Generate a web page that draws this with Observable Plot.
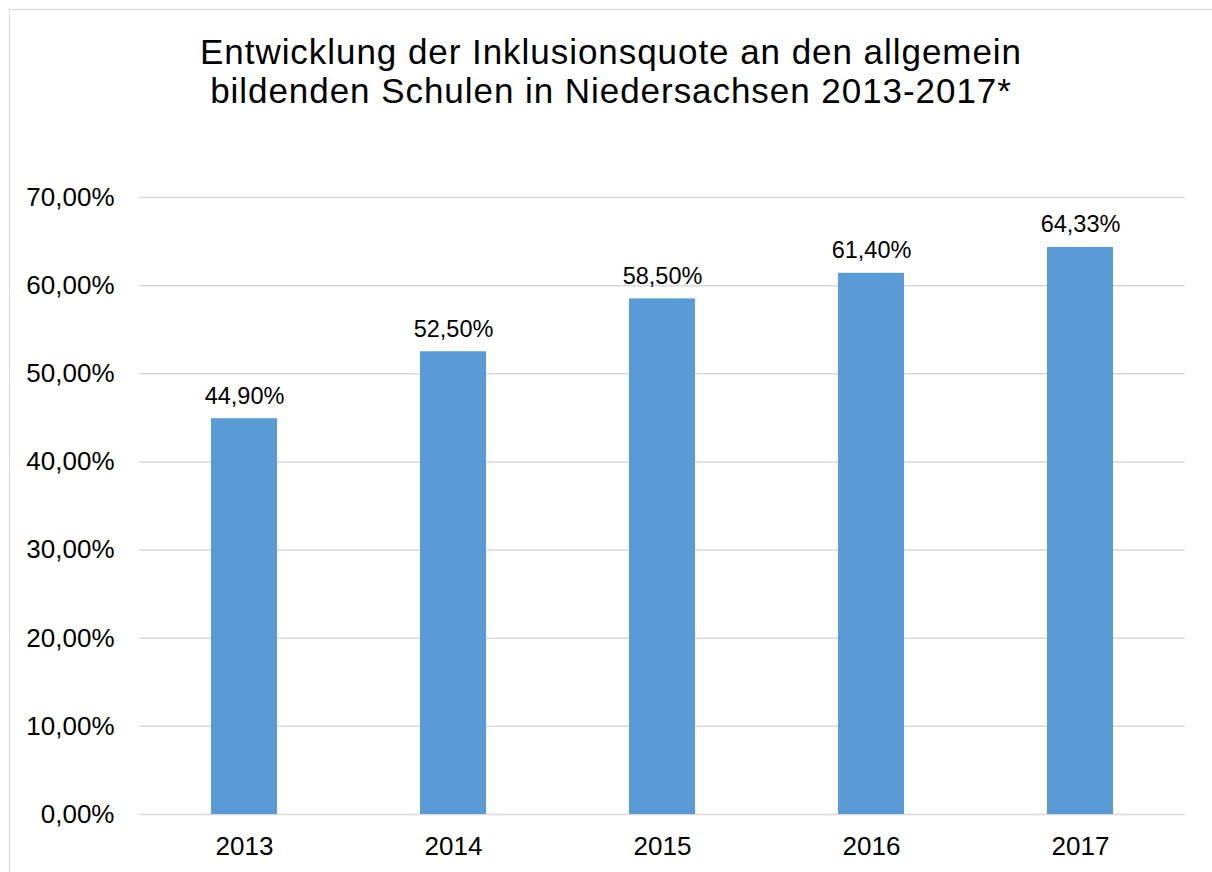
<!DOCTYPE html>
<html><head><meta charset="utf-8">
<script src="https://cdn.jsdelivr.net/npm/d3@7"></script>
<script src="https://cdn.jsdelivr.net/npm/@observablehq/plot@0.6"></script>
<style>
html,body{margin:0;padding:0;background:#fff;overflow:hidden;}
#wrap{position:relative;width:1212px;height:872px;overflow:hidden;font-family:"Liberation Sans",Arial,sans-serif;}
#frame{position:absolute;left:9px;top:9px;width:1400px;height:1000px;border:1px solid #d9d9d9;box-sizing:border-box;}
#title{position:relative;height:130px;box-sizing:border-box;padding-top:31.5px;padding-left:10px;text-align:center;font-size:35px;letter-spacing:0.95px;line-height:39.4px;color:#000;}
#chart{position:relative;}
</style></head>
<body><div id="wrap"><div id="frame"></div><div id="title">Entwicklung der Inklusionsquote an den allgemein<br>bildenden Schulen in Niedersachsen 2013-2017*</div><div id="chart"></div></div>
<script>
const years = ["2013", "2014", "2015", "2016", "2017"];
const values = [44.90, 52.50, 58.50, 61.40, 64.33];
const yTicks = [0, 10, 20, 30, 40, 50, 60, 70];
const data = years.map((year, i) => ({year, value: values[i]}));
const fmt = d => d.toFixed(2).replace(".", ",") + "%";
const chart = Plot.plot({
  width: 1212, height: 742,
  marginLeft: 139, marginRight: 27, marginTop: 67, marginBottom: 58,
  style: {fontFamily: '"Liberation Sans", Arial, sans-serif', fontSize: "26px", color: "#000", background: "none", overflow: "visible"},
  x: {domain: years, paddingInner: 0.685, paddingOuter: 0.3425, label: null},
  y: {domain: [0, 70], ticks: yTicks, label: null},
  marks: [
    Plot.ruleY(yTicks, {stroke: "#d9d9d9", strokeWidth: 1.5}),
    Plot.barY(data, {x: "year", y: "value", fill: "#5b9bd5"}),
    Plot.text(data, {x: "year", y: "value", text: d => fmt(d.value), dy: -15, lineAnchor: "bottom", fontSize: 23.5, fill: "#000"}),
    Plot.axisY({ticks: yTicks, tickFormat: fmt, tickSize: 0, tickPadding: 25, label: null}),
    Plot.axisX({tickSize: 0, tickPadding: 22.5, label: null})
  ]
});
document.getElementById("chart").appendChild(chart);
</script>
</body></html>
